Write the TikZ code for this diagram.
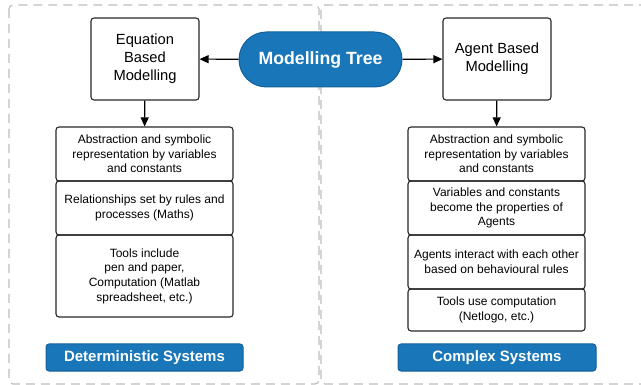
\documentclass[tikz,border=0pt]{standalone}
\usepackage{fontspec}
\setmainfont{Liberation Sans}
\usetikzlibrary{arrows.meta}

\definecolor{treeblue}{HTML}{1976B8}
\definecolor{treeedge}{HTML}{13619C}
\definecolor{frame}{HTML}{BDBDBD}

\tikzset{
  panel/.style={draw=frame, line width=1.2pt, dash pattern=on 9pt off 6pt,
    rounded corners=4pt},
  modelbox/.style={draw=black!85, line width=1.1pt, rounded corners=3pt,
    align=center, minimum width=108pt, minimum height=82pt,
    font=\fontsize{14.7}{18}\selectfont},
  listbox/.style={draw=black!85, line width=1.1pt, rounded corners=3pt,
    align=center, minimum width=177pt, inner sep=0pt,
    font=\fontsize{12}{14.7}\selectfont},
  sysbox/.style={draw=treeedge, fill=treeblue, text=white, line width=1pt,
    rounded corners=3pt, minimum height=27pt, inner sep=0pt,
    font=\fontsize{15}{18}\selectfont\bfseries},
  link/.style={line width=1.1pt, -{Triangle[length=9pt,width=8pt]}}
}

\begin{document}
\begin{tikzpicture}[x=1pt, y=-1pt]
\clip (0,0) rectangle (641,385);

\draw[panel] (9,5) rectangle (319,384);
\draw[panel] (648,5) -- (321,5) -- (321,384) -- (648,384);

\node[draw=treeedge, fill=treeblue, text=white, line width=1pt,
      rounded corners=27.5pt, minimum width=163pt, minimum height=55pt,
      font=\fontsize{17.7}{20}\selectfont\bfseries] (tree) at (320.5,59.5) {Modelling Tree};

\node[modelbox] (ebm) at (145,59) {Equation\\Based\\Modelling};
\node[modelbox] (abm) at (497,59) {Agent Based\\Modelling};

\node[listbox, minimum height=54pt] (l1) at (144.5,154)
  {Abstraction and symbolic\\representation by variables\\and constants};
\node[listbox, minimum height=54pt] (l2) at (144.5,208)
  {Relationships set by rules and\\processes (Maths)};
\node[listbox, minimum height=82pt] (l3) at (144.5,276)
  {Tools include\\pen and paper,\\Computation (Matlab\\spreadsheet, etc.)};

\node[listbox, minimum height=54pt] (r1) at (496.5,154)
  {Abstraction and symbolic\\representation by variables\\and constants};
\node[listbox, minimum height=54pt] (r2) at (496.5,208)
  {Variables and constants\\become the properties of\\Agents};
\node[listbox, minimum height=54pt] (r3) at (496.5,262)
  {Agents interact with each other\\based on behavioural rules};
\node[listbox, minimum height=42pt] (r4) at (496.5,310)
  {Tools use computation\\(Netlogo, etc.)};

\node[sysbox, minimum width=197pt] (det) at (144.5,357.5) {Deterministic Systems};
\node[sysbox, minimum width=198pt] (comp) at (497,357.5) {Complex Systems};

\draw[link] (tree) -- (ebm);
\draw[link] (tree) -- (abm);
\draw[link] (ebm) -- (l1);
\draw[link] (abm) -- (r1);
\end{tikzpicture}
\end{document}
